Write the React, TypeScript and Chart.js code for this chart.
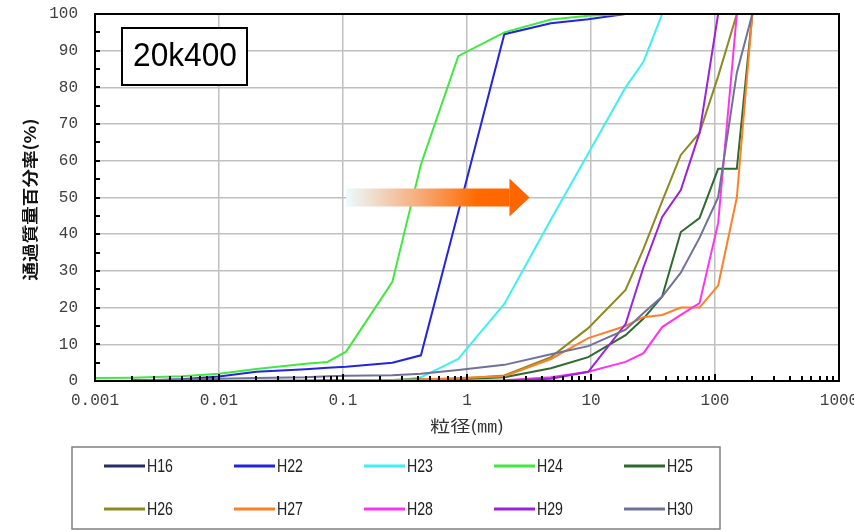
import React, { useEffect, useRef } from "react";
import { Chart, registerables } from "chart.js";

Chart.register(...registerables);

// ---- data ----
const SIZES = [0.001, 0.002, 0.005, 0.01, 0.02, 0.05, 0.075, 0.106, 0.25, 0.425, 0.85, 2, 4.75, 9.5, 19, 26.5, 37.5, 53, 75, 106, 150, 200];

const SERIES_NAMES = ["H16", "H22", "H23", "H24", "H25", "H26", "H27", "H28", "H29", "H30"];

const H16 = [null, 0.3, 0.3, 0.5, null, null, null, null, null, null, null, null, null, null, null, null, null, null, null, null, null, null];
const H22 = [null, 0, 0.5, 1.2, 2.5, 3.2, 3.6, 3.9, 5, 7, 46, 94.5, 97.5, 98.6, 100, 100, 100, 100, 100, null, null, null];
const H23 = [null, 0, 0, 0, 0, 0, 0, 0, 0, 1, 6, 21, 44, 62, 80, 87, 100, 100, 100, null, null, null];
const H24 = [0.8, 0.9, 1.3, 2, 3.3, 4.7, 5.2, 8, 27, 59, 88.5, 95, 98.5, 99.5, 100, 100, 100, 100, 100, null, null, null];
const H25 = [null, 0, 0, 0, 0.1, 0.1, 0.2, 0.2, 0.3, 0.4, 0.5, 1, 3.5, 6.5, 12.5, 17, 23, 40.6, 44.4, 57.8, 57.8, 100];
const H26 = [null, 0, 0, 0, 0, 0.1, 0.1, 0.2, 0.3, 0.4, 0.6, 1.5, 6.5, 14.4, 24.8, 36, 49, 61.6, 67.6, 83, 100, null];
const H27 = [null, 0, 0, 0, 0, 0.1, 0.1, 0.2, 0.3, 0.4, 0.8, 1.3, 6, 11.7, 15, 17.4, 18, 20, 20, 26, 50, 100];
const H28 = [0, 0, 0, 0, 0, 0, 0, 0, 0, 0, 0, 0.2, 1, 2.5, 5.2, 7.6, 14.7, 18, 21.2, 43, 100, null];
const H29 = [0, 0, 0, 0, 0, 0, 0, 0, 0, 0, 0, 0.1, 0.6, 2.5, 15.5, 31, 44.7, 52, 67.6, 100, null, null];
const H30 = [null, 0.2, 0.4, 0.6, 0.8, 1.0, 1.3, 1.4, 1.6, 2, 3, 4.4, 7.3, 9.5, 14, 18.5, 23, 29.5, 39, 50, 84, 100];

const SERIES_VALUES = [H16, H22, H23, H24, H25, H26, H27, H28, H29, H30];
const SERIES_COLORS = ["#262b6b", "#2424e0", "#3ff0f0", "#40e840", "#2d6a2d", "#8b8a21", "#ff7f27", "#ff33ee", "#9b22dd", "#70709c"];

const X_TICKS = [0.001, 0.01, 0.1, 1, 10, 100, 1000];
const X_TICK_LABELS = ["0.001", "0.01", "0.1", "1", "10", "100", "1000"];
const Y_MIN = 0;
const Y_MAX = 100;
const Y_STEP = 10;

const TITLE_Y = "通過質量百分率(%)";
const TITLE_X = "粒径(㎜)";
const SECTION_LABEL = "20k400";

// ---- drawing helpers ----
function fitText(ctx: CanvasRenderingContext2D, text: string, x: number, y: number, width: number) {
  const w = ctx.measureText(text).width;
  const s = width / w;
  ctx.save();
  ctx.translate(x, y);
  ctx.scale(s, 1);
  ctx.fillText(text, 0, 0);
  ctx.restore();
}

const decorPlugin = {
  id: "decor",
  afterDatasetsDraw(chart: any) {
    const ctx: CanvasRenderingContext2D = chart.ctx;
    const { left, right, top, bottom } = chart.chartArea;
    const xs = chart.scales.x;
    const ys = chart.scales.y;

    ctx.save();
    // arrow
    const ay = ys.getPixelForValue(50);
    const x0 = xs.getPixelForValue(0.106);
    const xh = xs.getPixelForValue(2.2);
    const xt = xs.getPixelForValue(3.2);
    const grad = ctx.createLinearGradient(x0, 0, xh, 0);
    grad.addColorStop(0, "rgba(235,250,255,1)");
    grad.addColorStop(0.45, "#f7ab78");
    grad.addColorStop(0.8, "#ff6a00");
    grad.addColorStop(1, "#ff6600");
    ctx.fillStyle = grad;
    ctx.fillRect(x0, ay - 9, xh - x0, 18);
    ctx.fillStyle = "#ff6600";
    ctx.beginPath();
    ctx.moveTo(xh, ay - 19);
    ctx.lineTo(xt, ay);
    ctx.lineTo(xh, ay + 19);
    ctx.closePath();
    ctx.fill();

    // frame
    ctx.strokeStyle = "#000";
    ctx.lineWidth = 2;
    ctx.strokeRect(left, top, right - left, bottom - top);

    // minor ticks x (bottom, inward)
    ctx.lineWidth = 2;
    ctx.beginPath();
    for (let d = -3; d < 3; d++) {
      for (let m = 1; m <= 10; m++) {
        const v = m * Math.pow(10, d);
        const px = Math.round(xs.getPixelForValue(v));
        const len = m === 1 || m === 10 ? 7 : 5;
        ctx.moveTo(px, bottom);
        ctx.lineTo(px, bottom - len);
      }
    }
    // y ticks (left, inward)
    for (let v = Y_MIN; v <= Y_MAX; v += 5) {
      const py = Math.round(ys.getPixelForValue(v));
      ctx.moveTo(left, py);
      ctx.lineTo(left + 5, py);
    }
    ctx.stroke();

    // x tick labels
    ctx.fillStyle = "#404040";
    ctx.font = "16px 'Liberation Mono', 'DejaVu Sans Mono', monospace";
    ctx.textAlign = "center";
    ctx.textBaseline = "middle";
    X_TICKS.forEach((v, i) => {
      ctx.fillText(X_TICK_LABELS[i], xs.getPixelForValue(v), bottom + 20);
    });

    // x title
    ctx.fillStyle = "#333";
    ctx.font = "16px 'Noto Sans CJK JP', sans-serif";
    ctx.textAlign = "left";
    const xtW = 74;
    fitText(ctx, TITLE_X, (left + right) / 2 - xtW / 2, bottom + 45, xtW);

    // y title (rotated)
    ctx.save();
    ctx.translate(30, (top + bottom) / 2 + 2);
    ctx.rotate(-Math.PI / 2);
    ctx.fillStyle = "#111";
    ctx.font = "bold 16px 'Noto Sans CJK JP', sans-serif";
    ctx.textAlign = "left";
    ctx.textBaseline = "middle";
    const ytW = 162;
    fitText(ctx, TITLE_Y, -ytW / 2, 0, ytW);
    ctx.restore();

    // section label box
    ctx.fillStyle = "#fff";
    ctx.fillRect(122, 28, 125, 57);
    ctx.strokeStyle = "#000";
    ctx.lineWidth = 2;
    ctx.strokeRect(122, 28, 125, 57);
    ctx.fillStyle = "#000";
    ctx.font = "34px 'Liberation Sans', 'Noto Sans', sans-serif";
    ctx.textAlign = "left";
    ctx.textBaseline = "middle";
    fitText(ctx, SECTION_LABEL, 133, 57, 104);

    // legend
    const lx = 72, ly = 447, lw = 648, lh = 82;
    ctx.strokeStyle = "#808080";
    ctx.lineWidth = 1.5;
    ctx.strokeRect(lx, ly, lw, lh);
    ctx.font = "19px 'Liberation Sans', sans-serif";
    ctx.fillStyle = "#222";
    SERIES_NAMES.forEach((name, i) => {
      const col = i % 5;
      const row = Math.floor(i / 5);
      const sx = 104 + col * 130;
      const sy = row === 0 ? 466 : 509;
      ctx.strokeStyle = SERIES_COLORS[i];
      ctx.lineWidth = 3;
      ctx.beginPath();
      ctx.moveTo(sx, sy);
      ctx.lineTo(sx + 41, sy);
      ctx.stroke();
      fitText(ctx, name, sx + 43, sy + 1, 26);
    });
    ctx.restore();
  },
};

export default function App() {
  const ref = useRef<HTMLCanvasElement | null>(null);
  useEffect(() => {
    document.body.style.margin = "0";
    const canvas = ref.current;
    if (!canvas) return;
    const datasets = SERIES_NAMES.map((name, i) => ({
      label: name,
      data: SIZES.map((x, j) => ({ x, y: SERIES_VALUES[i][j] })).filter((p) => p.y !== null),
      borderColor: SERIES_COLORS[i],
      backgroundColor: SERIES_COLORS[i],
      borderWidth: 2,
      pointRadius: 0,
      tension: 0,
      fill: false,
      order: SERIES_NAMES.length - i,
    }));
    const chart = new Chart(canvas, {
      type: "line",
      data: { datasets },
      options: {
        responsive: false,
        animation: false,
        devicePixelRatio: 1,
        layout: { padding: { top: 14, right: 15, left: 0, bottom: 0 } },
        plugins: { legend: { display: false }, tooltip: { enabled: false } },
        scales: {
          x: {
            type: "logarithmic",
            min: 0.001,
            max: 1000,
            afterBuildTicks: (s: any) => {
              s.ticks = X_TICKS.map((v) => ({ value: v }));
            },
            afterFit: (s: any) => {
              s.height = 151;
            },
            ticks: { display: false },
            grid: { color: "#c0c0c0", lineWidth: 1.5, drawTicks: false },
            border: { display: false },
          },
          y: {
            min: Y_MIN,
            max: Y_MAX,
            afterFit: (s: any) => {
              s.width = 95;
            },
            ticks: {
              stepSize: Y_STEP,
              color: "#404040",
              padding: 0,
              font: { family: "'Liberation Mono', 'DejaVu Sans Mono', monospace", size: 16 },
            },
            grid: { color: "#c0c0c0", lineWidth: 1.5, drawTicks: true, tickLength: 17, tickColor: "rgba(0,0,0,0)" },
            border: { display: false },
          },
        },
      },
      plugins: [decorPlugin],
    } as any);
    return () => chart.destroy();
  }, []);
  return (
    <div style={{ width: 854, height: 532, background: "#fff" }}>
      <canvas ref={ref} width={854} height={532} style={{ display: "block" }} />
    </div>
  );
}
